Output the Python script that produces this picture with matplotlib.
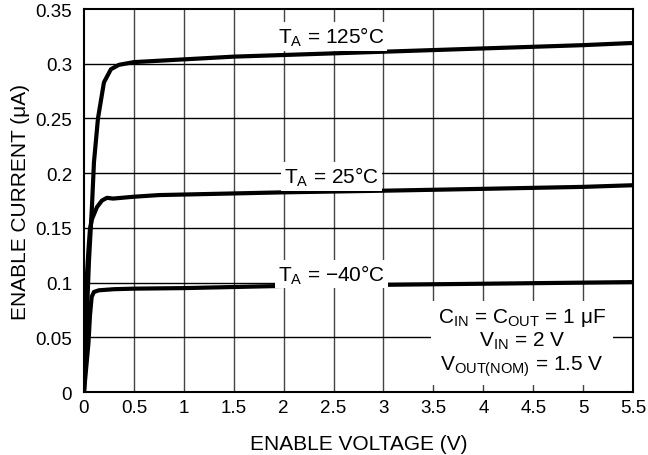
import matplotlib
matplotlib.use("Agg")
import matplotlib.pyplot as plt
import numpy as np

plt.rcParams['font.family'] = ['Liberation Sans', 'DejaVu Sans']
plt.rcParams['mathtext.fontset'] = 'custom'
plt.rcParams['mathtext.rm'] = 'Liberation Sans'
plt.rcParams['mathtext.it'] = 'Liberation Sans'

# Дані
v_125 = [0, 0.02, 0.05, 0.08, 0.10, 0.14, 0.20, 0.27, 0.35, 0.5, 1.0, 1.5, 2.0, 3.0, 4.0, 5.0, 5.5]
i_125 = [0, 0.05, 0.12, 0.17, 0.21, 0.25, 0.283, 0.295, 0.299, 0.3015, 0.304, 0.3065, 0.308, 0.311, 0.314, 0.317, 0.319]

v_25 = [0, 0.01, 0.025, 0.045, 0.06, 0.08, 0.13, 0.18, 0.23, 0.29, 0.5, 0.75, 1.0, 2.0, 3.0, 4.0, 5.0, 5.5]
i_25 = [0, 0.05, 0.10, 0.13, 0.149, 0.158, 0.169, 0.175, 0.1775, 0.1768, 0.1785, 0.180, 0.1805, 0.1825, 0.184, 0.1857, 0.1875, 0.189]

v_m40 = [0, 0.03, 0.045, 0.06, 0.077, 0.10, 0.15, 0.3, 0.5, 1.0, 2.0, 3.0, 4.0, 5.0, 5.5]
i_m40 = [0, 0.03, 0.045, 0.07, 0.087, 0.0915, 0.093, 0.094, 0.0945, 0.095, 0.097, 0.098, 0.099, 0.100, 0.1005]

x_ticks = np.arange(0, 5.51, 0.5)
y_ticks = np.arange(0, 0.351, 0.05)
x_labels = ['0', '0.5', '1', '1.5', '2', '2.5', '3', '3.5', '4', '4.5', '5', '5.5']
y_labels = ['0', '0.05', '0.1', '0.15', '0.2', '0.25', '0.3', '0.35']

fig = plt.figure(figsize=(6.48, 4.56), dpi=100)
ax = fig.add_axes([0.1296, 0.138, 0.8474, 0.84])

# Сітка
for x in x_ticks[1:-1]:
    ax.axvline(x, color='#444444', lw=1, zorder=1)
for y in y_ticks[1:-1]:
    ax.axhline(y, color='black', lw=1, zorder=1)

# Криві
for v, i in [(v_125, i_125), (v_25, i_25), (v_m40, i_m40)]:
    ax.plot(v, i, color='black', lw=3, solid_joinstyle='round', zorder=3)

box = dict(facecolor='white', edgecolor='none', pad=2)
fs = 15
ax.text(2.48, 0.325, r'T$_{\mathregular{A}}$ = 125°C', ha='center', va='center', fontsize=fs, bbox=box, zorder=4)
ax.text(2.48, 0.197, r'T$_{\mathregular{A}}$ = 25°C', ha='center', va='center', fontsize=fs, bbox=box, zorder=4)
ax.text(2.48, 0.108, r'T$_{\mathregular{A}}$ = −40°C', ha='center', va='center', fontsize=fs, bbox=box, zorder=4)
ax.text(4.39, 0.0457,
        'C$_{\\mathregular{IN}}$ = C$_{\\mathregular{OUT}}$ = 1 μF\n'
        'V$_{\\mathregular{IN}}$ = 2 V\n'
        'V$_{\\mathregular{OUT(NOM)}}$ = 1.5 V',
        ha='center', va='center', fontsize=fs, linespacing=1.15,
        bbox=dict(facecolor='white', edgecolor='none', pad=5), zorder=4)

ax.set_xlim(0, 5.5)
ax.set_ylim(0, 0.35)
ax.set_xticks(x_ticks)
ax.set_xticklabels(x_labels)
ax.set_yticks(y_ticks)
ax.set_yticklabels(y_labels)
ax.tick_params(axis='x', length=0, pad=5, labelsize=13.5)
ax.tick_params(axis='y', length=0, pad=8.5, labelsize=13.5)
for s in ax.spines.values():
    s.set_linewidth(1.5)
    s.set_zorder(5)

ax.set_xlabel('ENABLE VOLTAGE (V)', fontsize=15, labelpad=13)
ax.set_ylabel('ENABLE CURRENT (μA)', fontsize=15, labelpad=4)

fig.savefig('out.png', dpi=100)
